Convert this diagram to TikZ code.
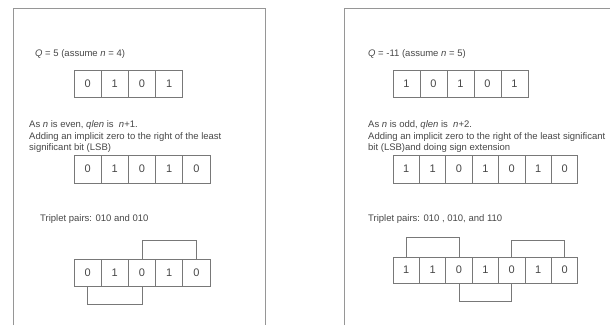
\documentclass[tikz,border=0pt]{standalone}
\usepackage{fontspec}
\setmainfont{Liberation Sans}
\usepackage{tikz}
\usetikzlibrary{positioning}
\definecolor{inkgray}{RGB}{70,70,70}
\definecolor{linegray}{RGB}{120,120,120}
\definecolor{framegray}{RGB}{150,150,150}

\begin{document}
\begin{tikzpicture}[x=1pt, y=1pt,
  bit/.style={rectangle, draw=linegray, line width=0.9pt, minimum height=27pt, inner sep=0pt, font=\fontsize{11}{13}\selectfont, text=inkgray},
  note/.style={anchor=north west, align=left, inner sep=0pt, font=\fontsize{9.5}{11.5}\selectfont, text=inkgray},
  line/.style={anchor=base west, inner sep=0pt, font=\fontsize{9.5}{11.5}\selectfont, text=inkgray},
  pair/.style={draw=linegray, line width=0.9pt},
  frame/.style={draw=framegray, line width=1pt}
]
  \useasboundingbox (0,0) rectangle (610,-325);

  % page frames
  \draw[frame] (13,-325) -- (13,-8) -- (265,-8) -- (265,-325);
  \draw[frame] (344,-325) -- (344,-8) -- (610,-8);

  % left: Q = 5
  \node[line] (lq) at (35,-56.4) {\textit{Q} = 5 (assume \textit{n} = 4)};
  \foreach \b [count=\i] in {0,1,0,1}
    \node[bit, minimum width=27.2pt] (la\i) at ({87.6+(\i-1)*27.2},-83.5) {\b};

  \node[note] (lnote) at (29,-120.6) {As \textit{n} is even, \textit{qlen} is \ \textit{n}+1.\\
    Adding an implicit zero to the right of the least\\
    significant bit (LSB)};
  \foreach \b [count=\i] in {0,1,0,1,0}
    \node[bit, minimum width=27.2pt, minimum height=28pt] (lb\i) at ({87.6+(\i-1)*27.2},-169) {\b};

  \node[line] (ltrip) at (40,-221.4) {Triplet pairs: 010 and 010};
  \foreach \b [count=\i] in {0,1,0,1,0}
    \node[bit, minimum width=27.2pt] (lc\i) at ({87.6+(\i-1)*27.2},-272.5) {\b};
  \draw[pair] (lc3.north) -- ++(0,18) -| (lc5.north);
  \draw[pair] (lc1.south) -- ++(0,-18) -| (lc3.south);

  % right: Q = -11
  \node[line] (rq) at (368,-56.4) {\textit{Q} = -11 (assume \textit{n} = 5)};
  \foreach \b [count=\i] in {1,0,1,0,1}
    \node[bit, minimum width=27pt] (ra\i) at ({406.5+(\i-1)*27},-83.5) {\b};

  \node[note] (rnote) at (368,-120.6) {As \textit{n} is odd, \textit{qlen} is \ \textit{n}+2.\\
    Adding an implicit zero to the right of the least significant\\
    bit (LSB)and doing sign extension};
  \foreach \b [count=\i] in {1,1,0,1,0,1,0}
    \node[bit, minimum width=26.4pt, minimum height=28pt] (rb\i) at ({406.2+(\i-1)*26.4},-169) {\b};

  \node[line] (rtrip) at (368,-221.4) {Triplet pairs: 010 , 010, and 110};
  \foreach \b [count=\i] in {1,1,0,1,0,1,0}
    \node[bit, minimum width=26.4pt, minimum height=26pt] (rc\i) at ({406.2+(\i-1)*26.4},-270) {\b};
  \draw[pair] (rc1.north) -- ++(0,19) -| (rc3.north);
  \draw[pair] (rc5.north) -- ++(0,16) -| (rc7.north);
  \draw[pair] (rc3.south) -- ++(0,-18) -| (rc5.south);
\end{tikzpicture}
\end{document}
